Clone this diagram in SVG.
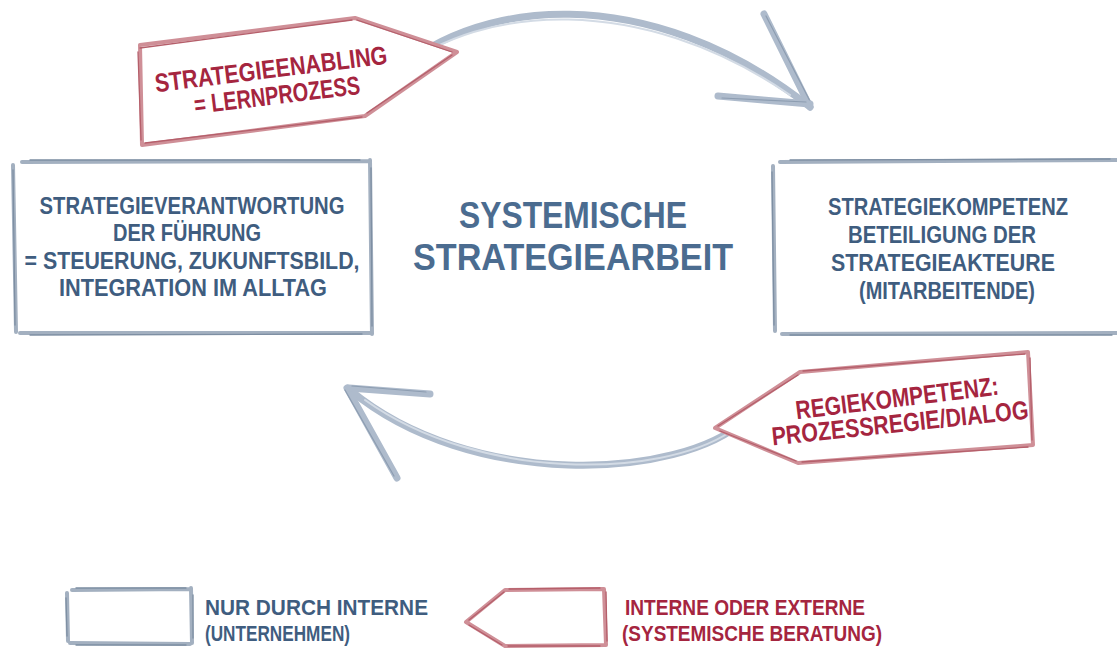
<svg xmlns="http://www.w3.org/2000/svg" width="1117" height="653" viewBox="0 0 1117 653">
<defs>
<filter id="soft" x="-5%" y="-5%" width="110%" height="110%"><feGaussianBlur stdDeviation="0.6"/></filter>
<style>
.bx{fill:none;stroke:#a3b0c0;stroke-width:4;stroke-linecap:round;}
.bxd{fill:none;stroke:#7e8fa3;stroke-width:1.3;stroke-linecap:round;}
.tg{fill:#fff;stroke:#cf8f97;stroke-width:4;stroke-linejoin:round;stroke-linecap:round;}
.tgd{fill:none;stroke:#b55f6b;stroke-width:1.3;stroke-linecap:round;}
.arc{fill:none;stroke:#aebbcc;stroke-width:7;stroke-linecap:round;}
.arcl{fill:none;stroke:#d3dbe5;stroke-width:2;stroke-linecap:round;}
.arcd{fill:none;stroke:#8d9db1;stroke-width:1.2;stroke-linecap:round;}
.tb{font-family:"Liberation Sans",Arial,sans-serif;font-weight:bold;fill:#3f5d7f;font-size:24px;}
.tr{font-family:"Liberation Sans",Arial,sans-serif;font-weight:bold;fill:#a5253f;font-size:26px;}
.tt{font-family:"Liberation Sans",Arial,sans-serif;font-weight:bold;fill:#4b6c90;font-size:37px;}
.lg{font-size:22px;}
.rs{font-size:23px;}
</style>
</defs>
<rect width="1117" height="653" fill="#ffffff"/>

<g id="connectors" filter="url(#soft)">
  <g id="arc-top">
    <path class="arc" d="M385,82 C470,-5 650,-20 810,107" stroke-width="6"/>
    <path class="arcl" d="M400,70 C480,5 640,-8 790,95"/>
    <path class="arc" d="M810,107 L764,14" stroke-width="5"/>
    <path class="arcd" d="M812,105 L766,16"/>
    <path class="arc" d="M810,104 L718,96" stroke-width="5"/>
    <path class="arcd" d="M806,102 L722,98"/>
  </g>
  <g id="arc-bottom">
    <path class="arc" d="M745,420 C680,480 470,490 350,390" stroke-width="6"/>
    <path class="arcl" d="M730,432 C660,478 480,482 365,400"/>
    <path class="arc" d="M347,388 L397,478" stroke-width="5"/>
    <path class="arcd" d="M345,390 L394,476"/>
    <path class="arc" d="M349,388 L430,394" stroke-width="5"/>
    <path class="arcd" d="M352,386 L426,392"/>
  </g>
</g>

<g id="box-left" filter="url(#soft)">
  <path class="bx" d="M22,162 L370,161 M13,165 L16,332 M370,160 L372,334 M20,333 L370,333"/>
  <path class="bxd" d="M30,160 L360,160 M13,170 L15,325 M371,168 L372,326 M30,335 L362,334"/>
</g>
<g id="box-left-text">
  <text class="tb" x="192" y="214" text-anchor="middle" textLength="305" lengthAdjust="spacingAndGlyphs">STRATEGIEVERANTWORTUNG</text>
  <text class="tb" x="187" y="241" text-anchor="middle" textLength="148" lengthAdjust="spacingAndGlyphs">DER FÜHRUNG</text>
  <text class="tb" x="192" y="269" text-anchor="middle" textLength="335" lengthAdjust="spacingAndGlyphs">= STEUERUNG, ZUKUNFTSBILD,</text>
  <text class="tb" x="193" y="296" text-anchor="middle" textLength="268" lengthAdjust="spacingAndGlyphs">INTEGRATION IM ALLTAG</text>
</g>

<g id="box-right" filter="url(#soft)">
  <path class="bx" d="M780,162 L1117,160 M773,166 L775,331 M782,334 L1117,333"/>
  <path class="bxd" d="M790,160 L1110,159 M772,172 L774,325 M790,335 L1112,335"/>
</g>
<g id="box-right-text">
  <text class="tb rs" x="948" y="215" text-anchor="middle" textLength="240" lengthAdjust="spacingAndGlyphs">STRATEGIEKOMPETENZ</text>
  <text class="tb rs" x="942" y="243" text-anchor="middle" textLength="188" lengthAdjust="spacingAndGlyphs">BETEILIGUNG DER</text>
  <text class="tb rs" x="943" y="271" text-anchor="middle" textLength="224" lengthAdjust="spacingAndGlyphs">STRATEGIEAKTEURE</text>
  <text class="tb rs" x="947" y="299" text-anchor="middle" textLength="176" lengthAdjust="spacingAndGlyphs">(MITARBEITENDE)</text>
</g>

<g id="title">
  <text class="tt" x="573" y="228" text-anchor="middle" textLength="228" lengthAdjust="spacingAndGlyphs">SYSTEMISCHE</text>
  <text class="tt" x="573" y="270" text-anchor="middle" textLength="320" lengthAdjust="spacingAndGlyphs">STRATEGIEARBEIT</text>
</g>

<g id="tag-top">
  <path class="tg" filter="url(#soft)" d="M140,45 L355,18 L457,52 L365,116 L142,145 Z"/>
  <path class="tgd" filter="url(#soft)" d="M140,48 L352,20 M357,20 L452,52 M452,55 L367,113 M362,117 L145,143 M138,52 L141,140"/>
  <text class="tr" x="271" y="78" text-anchor="middle" textLength="234" lengthAdjust="spacingAndGlyphs" transform="rotate(-7 271 69)">STRATEGIEENABLING</text>
  <text class="tr" x="277" y="104" text-anchor="middle" textLength="167" lengthAdjust="spacingAndGlyphs" transform="rotate(-7 277 95)">= LERNPROZESS</text>
</g>

<g id="tag-bottom">
  <path class="tg" filter="url(#soft)" d="M715,428 L800,372 L1028,352 L1033,445 L798,463 Z"/>
  <path class="tgd" filter="url(#soft)" d="M718,426 L798,375 M803,371 L1025,354 M1030,358 L1032,440 M1028,447 L802,462 M796,461 L720,431"/>
  <text class="tr" x="897" y="407" text-anchor="middle" textLength="204" lengthAdjust="spacingAndGlyphs" transform="rotate(-7 897 398)">REGIEKOMPETENZ:</text>
  <text class="tr" x="900" y="432" text-anchor="middle" textLength="258" lengthAdjust="spacingAndGlyphs" transform="rotate(-6 900 423)">PROZESSREGIE/DIALOG</text>
</g>

<g id="legend-internal">
  <g filter="url(#soft)">
    <path class="bx" d="M72,590 L190,589 M67,593 L68,641 M191,588 L192,643 M70,643 L190,644"/>
    <path class="bxd" d="M76,588 L186,588 M66,598 L67,636 M193,595 L193,638 M76,645 L186,645"/>
  </g>
  <text class="tb lg" x="205" y="615" textLength="223" lengthAdjust="spacingAndGlyphs">NUR DURCH INTERNE</text>
  <text class="tb lg" x="205" y="641" textLength="145" lengthAdjust="spacingAndGlyphs">(UNTERNEHMEN)</text>
</g>

<g id="legend-external">
  <g filter="url(#soft)">
    <path class="tg" d="M466,622 L505,590 L604,589 L606,645 L505,646 Z"/>
    <path class="tgd" d="M469,620 L504,592 M509,589 L600,588 M606,592 L607,641 M600,646 L508,646 M502,645 L469,625"/>
  </g>
  <text class="tr lg" x="625" y="615" textLength="240" lengthAdjust="spacingAndGlyphs">INTERNE ODER EXTERNE</text>
  <text class="tr lg" x="622" y="641" textLength="260" lengthAdjust="spacingAndGlyphs">(SYSTEMISCHE BERATUNG)</text>
</g>
</svg>
